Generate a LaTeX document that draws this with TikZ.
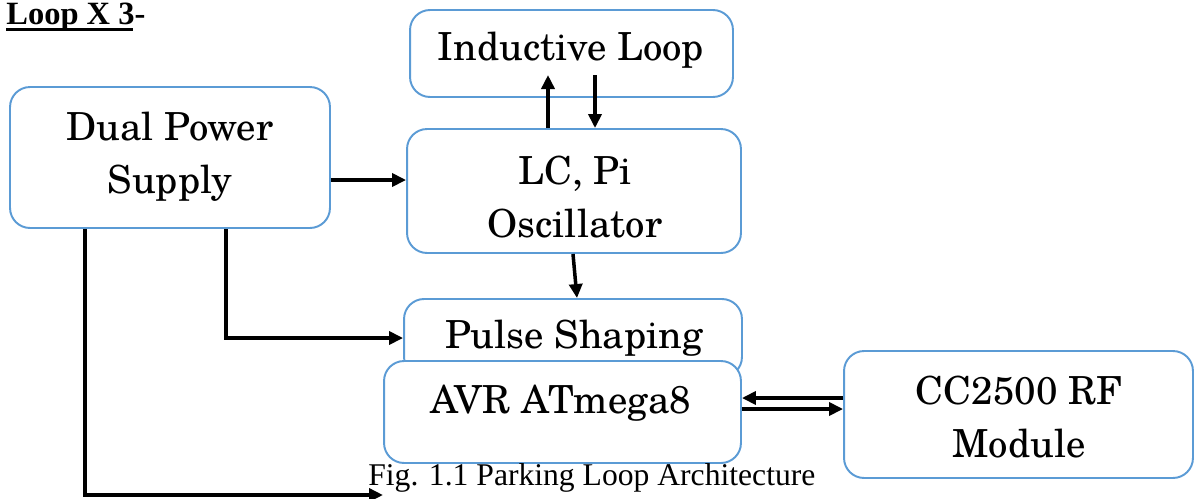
\documentclass[tikz,border=0pt]{standalone}
\usepackage{fontspec}
\setmainfont{Liberation Serif}
\newfontfamily\boxfont{TeX Gyre Schola}
\usetikzlibrary{arrows.meta}
\definecolor{boxblue}{RGB}{91,155,213}
\begin{document}
\begin{tikzpicture}[x=0.02cm,y=-0.02cm,
  blk/.style={draw=boxblue,line width=1.1pt,rounded corners=0.4cm,fill=white,inner sep=0pt},
  lbl/.style={font=\boxfont\fontsize{22}{30}\selectfont,align=center,inner sep=0pt},
  arr/.style={line width=2pt,-{Triangle[length=0.28cm,width=0.26cm]}}]
\useasboundingbox (0,0) rectangle (1194,498);
% boxes
\node[blk,minimum width=6.4cm,minimum height=2.82cm] (dual) at (170,157.5) {};
\node[blk,minimum width=6.46cm,minimum height=1.74cm] (ind) at (571.5,53.5) {};
\node[blk,minimum width=6.68cm,minimum height=2.48cm] (lc) at (574,191) {};
\node[blk,minimum width=6.76cm,minimum height=1.56cm] (pulse) at (573,338) {};
\node[blk,minimum width=7.14cm,minimum height=2.04cm] (avr) at (562.5,412) {};
\node[blk,minimum width=6.98cm,minimum height=2.54cm] (cc) at (1018.5,414.5) {};
% labels
\node[lbl] (tdual) at (170,157) {Dual Power\\Supply};
\node[lbl] (tind) at (571,50) {Inductive Loop};
\node[lbl] (tlc) at (575,197) {LC, Pi\\Oscillator};
\node[lbl] (tpulse) at (574,338) {Pulse Shaping};
\node[lbl] (tavr) at (561,403) {AVR ATmega8};
\node[lbl] (tcc) at (1019,417) {CC2500 RF\\Module};
% title and caption
\node[anchor=base west,inner sep=0pt,font=\bfseries\fontsize{18.5}{21}\selectfont] (title) at (6,24.5) {Loop X 3-};
\draw[line width=2pt] (6,29.5) -- (133,29.5);
\node[anchor=base west,inner sep=0pt,font=\fontsize{18}{20}\selectfont] (cap) at (368,485) {Fig. 1.1 Parking Loop Architecture};
% coordinates
\coordinate (indup) at (548,75);
\coordinate (inddn) at (595,75);
\coordinate (avrin) at (383,495);
% connectors
\draw[arr] (dual.east |- 0,180) -- (lc.west |- 0,180);
\draw[arr] (lc.north -| indup) -- (indup);
\draw[arr] (inddn) -- (lc.north -| inddn);
\draw[arr] (lc.south -| 573,0) -- (pulse.north -| 577,0);
\draw[arr] (dual.south -| 226,0) |- (pulse.west);
\draw[arr] (dual.south -| 85,0) |- (avrin);
\draw[arr] (cc.west |- 0,398) -- (avr.east |- 0,398);
\draw[arr] (avr.east |- 0,409) -- (cc.west |- 0,409);
\end{tikzpicture}
\end{document}
